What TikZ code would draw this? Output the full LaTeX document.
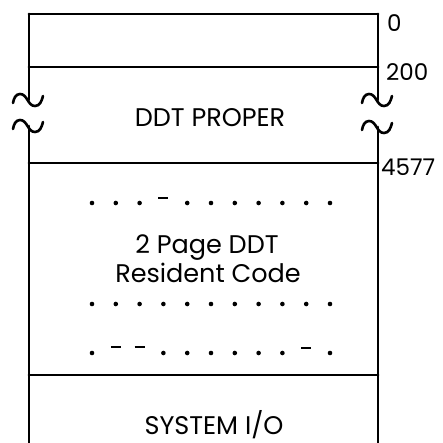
\documentclass[tikz,border=0pt]{standalone}
\usepackage{fontspec}
\setmainfont{Poppins}
\usetikzlibrary{positioning,calc}

\begin{document}
\begin{tikzpicture}[
  x=1pt,y=-1pt,
  wall/.style={line width=2.8pt,line cap=round},
  brk/.style={line width=2.6pt,line cap=round},
  tag/.style={anchor=west,inner sep=0pt,font=\fontsize{23}{23}\selectfont},
  body/.style={anchor=base,inner sep=0pt,font=\fontsize{25.5}{25.5}\selectfont},
  spot/.style={fill=black},
  bar/.style={line width=2.6pt}
]
  \useasboundingbox (0,0) rectangle (442,443);
  % frame corners and break points
  \coordinate (tl) at (29,14);
  \coordinate (tr) at (378,14);
  \coordinate (lb1) at (29,100);
  \coordinate (lb2) at (29,126);
  \coordinate (rb1) at (378,100);
  \coordinate (rb2) at (378,127);
  \coordinate (bl) at (29,443);
  \coordinate (br) at (378,443);
  % outer walls
  \draw[wall] (tl) -- (tr);
  \draw[wall] (tl) -- (lb1);
  \draw[wall] (lb2) -- (bl);
  \draw[wall] (tr) -- (rb1);
  \draw[wall] (rb2) -- (br);
  % break marks
  \foreach \p in {lb1,lb2,rb1,rb2}
    \draw[brk] ($(\p)+(-16,3)$) to[out=80,in=180] ($(\p)+(-9,-6)$)
      to[out=0,in=180] ($(\p)+(6,6)$) to[out=0,in=-105] ($(\p)+(14,-4)$);
  % region borders
  \draw[wall] (29,67) -- (378,67);
  \draw[wall] (29,163) -- (378,163);
  \draw[wall] (29,375) -- (378,375);
  % addresses
  \node[tag] (a0) at (387,23) {0};
  \node[tag] (a200) at (386,72) {200};
  \node[tag] (a4577) at (381,167) {4577};
  % region names
  \node[body] (proper) at (210,127) {DDT PROPER};
  \node[body] (res1) at (207,253) {2 Page DDT};
  \node[body] (res2) at (208,282) {Resident Code};
  \node[body] (sysio) at (214,434) {SYSTEM I/O};
  % dotted rows
  \foreach \i in {0,...,10} {
    \pgfmathsetmacro\xx{92+23.8*\i}
    \ifnum\i=3
      \draw[bar] (\xx-5,198) -- (\xx+5,198);
    \else
      \fill[spot] (\xx,203) circle (2.3);
    \fi
    \fill[spot] (\xx,304) circle (2.3);
    \ifnum\i=1
      \draw[bar] (\xx-5,347) -- (\xx+5,347);
    \else\ifnum\i=2
      \draw[bar] (\xx-5,347) -- (\xx+5,347);
    \else\ifnum\i=9
      \draw[bar] (\xx-5,348) -- (\xx+5,348);
    \else
      \fill[spot] (\xx,353) circle (2.3);
    \fi\fi\fi
  }
\end{tikzpicture}
\end{document}
